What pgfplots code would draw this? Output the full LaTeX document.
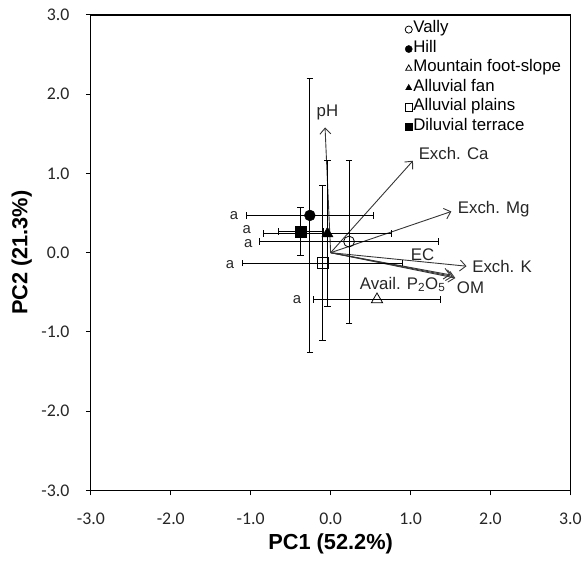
\documentclass[border=0pt]{standalone}
\usepackage{fontspec}
\setmainfont{Liberation Sans}
\newfontfamily\tickfont{Carlito}
\usepackage{pgfplots}
\pgfplotsset{compat=1.18}
\usetikzlibrary{arrows.meta}
\definecolor{vec}{HTML}{353535}
\newcommand{\lbl}{\fontsize{17}{19}\selectfont}
\newcommand{\tkf}{\tickfont\fontsize{18}{20}\selectfont}
\pgfplotsset{grp/.style={error bars/.cd, x dir=both, x explicit, y dir=both, y explicit, error mark=|,
  error bar style={black, line width=0.8bp}, error mark options={black, mark size=3.3bp, line width=0.8bp}}}
\begin{document}
\begin{tikzpicture}
\begin{axis}[
  at={(0,0)}, anchor=south west,
  scale only axis, width=483bp, height=479bp,
  xmin=-3, xmax=3, ymin=-3, ymax=3,
  xtick={-3,-2,-1,0,1,2,3}, ytick={-3,-2,-1,0,1,2,3},
  xticklabels={\tkf -3.0,\tkf -2.0,\tkf -1.0,\tkf 0.0,\tkf 1.0,\tkf 2.0,\tkf 3.0},
  yticklabels={\tkf -3.0,\tkf -2.0,\tkf -1.0,\tkf 0.0,\tkf 1.0,\tkf 2.0,\tkf 3.0},
  xtick pos=bottom, ytick pos=left,
  tick align=outside, major tick length=5bp,
  tick style={black, line width=1bp},
  axis line style={black, line width=1.3bp},
  every tick label/.append style={text=black!85},
  xticklabel style={yshift=-14bp},
  yticklabel style={xshift=-13bp},
  xlabel={PC1 (52.2\%)}, ylabel={PC2 (21.3\%)},
  label style={font=\bfseries\fontsize{22}{24}\selectfont},
  xlabel style={at={(axis description cs:0.5,-0.1127)}, anchor=center},
  ylabel style={at={(axis description cs:-0.1439,0.5)}, anchor=center, rotate=0},
  clip=false,
  legend cell align=left,
  legend style={at={(axis description cs:0.655,0.99)}, anchor=north west, draw=none, fill=none,
    font=\fontsize{17}{19}\selectfont, inner sep=0pt, row sep=0pt,
    nodes={inner xsep=1bp, inner ysep=0bp, text height=13bp, text depth=6.6bp}},
  legend image code/.code={\draw[#1, mark size=3.6bp] plot coordinates {(0bp,0bp)};},
]
% variable vectors
\addplot[forget plot, vec, line width=0.9bp, -{Straight Barb[length=6bp,width=11bp]}] coordinates {(0,0) (-0.07,1.58)};
\addplot[forget plot, vec, line width=0.9bp, -{Straight Barb[length=6bp,width=11bp]}] coordinates {(0,0) (1.03,1.16)};
\addplot[forget plot, vec, line width=0.9bp, -{Straight Barb[length=6bp,width=11bp]}] coordinates {(0,0) (1.51,0.52)};
\addplot[forget plot, vec, line width=0.9bp, -{Straight Barb[length=6bp,width=11bp]}] coordinates {(0,0) (1.70,-0.17)};
\addplot[forget plot, vec, line width=0.9bp, -{Straight Barb[length=6bp,width=11bp]}] coordinates {(0,0) (1.50,-0.28)};
\addplot[forget plot, vec, line width=0.9bp, -{Straight Barb[length=6bp,width=11bp]}] coordinates {(0,0) (1.53,-0.30)};
\addplot[forget plot, vec, line width=0.9bp, -{Straight Barb[length=6bp,width=11bp]}] coordinates {(0,0) (1.56,-0.32)};
% groups
\addplot[only marks, mark=o, mark size=5.5bp, mark options={fill=white, draw=black, line width=0.8bp}, grp]
  table[x=x, y=y, x error=ex, y error=ey] {
x y ex ey
0.23 0.14 1.12 1.03
};
\addlegendentry{Vally}
\addplot[only marks, mark=*, mark size=5.5bp, mark options={fill=black, draw=black}, grp]
  table[x=x, y=y, x error=ex, y error=ey] {
x y ex ey
-0.26 0.47 0.79 1.73
};
\addlegendentry{Hill}
\addplot[only marks, mark=triangle, mark size=6.5bp, mark options={fill=white, draw=black, line width=0.8bp},
  error bars/.cd, x dir=both, x explicit, error mark=|,
  error bar style={black, line width=0.8bp}, error mark options={black, mark size=3.3bp, line width=0.8bp}]
  table[x=x, y=y, x error=ex] {
x y ex
0.58 -0.59 0.79
};
\addlegendentry{Mountain foot-slope}
\addplot[only marks, mark=triangle*, mark size=6.5bp, mark options={fill=black, draw=black}, grp]
  table[x=x, y=y, x error=ex, y error=ey] {
x y ex ey
-0.04 0.24 0.80 0.92
};
\addlegendentry{Alluvial fan}
\addplot[only marks, mark=square, mark size=5.5bp, mark options={fill=white, draw=black, line width=0.8bp}, grp]
  table[x=x, y=y, x error=ex, y error=ey] {
x y ex ey
-0.10 -0.13 1.00 0.98
};
\addlegendentry{Alluvial plains}
\addplot[only marks, mark=square*, mark size=5.5bp, mark options={fill=black, draw=black}, grp]
  table[x=x, y=y, x error=ex, y error=ey] {
x y ex ey
-0.375 0.27 0.28 0.30
};
\addlegendentry{Diluvial terrace}
% vector labels
\node[font=\lbl, text=black!85, inner sep=0pt] at (axis cs:-0.04,1.77) {pH};
\node[font=\lbl, text=black!85, inner sep=0pt, anchor=west] at (axis cs:1.10,1.25) {Exch. Ca};
\node[font=\lbl, text=black!85, inner sep=0pt, anchor=west] at (axis cs:1.59,0.55) {Exch. Mg};
\node[font=\lbl, text=black!85, inner sep=0pt, anchor=west] at (axis cs:1.77,-0.17) {Exch. K};
\node[font=\lbl, text=black!85, inner sep=0pt] at (axis cs:1.15,-0.03) {EC};
\node[font=\lbl, text=black!85, inner sep=0pt] at (axis cs:1.75,-0.44) {OM};
\node[font=\lbl, text=black!85, inner sep=0pt] at (axis cs:0.90,-0.40) {Avail. P\textsubscript{2}O\textsubscript{5}};
\node[font=\fontsize{15}{17}\selectfont, text=black!85, inner sep=0pt] at (axis cs:-1.21,0.47) {a};
\node[font=\fontsize{15}{17}\selectfont, text=black!85, inner sep=0pt] at (axis cs:-1.05,0.29) {a};
\node[font=\fontsize{15}{17}\selectfont, text=black!85, inner sep=0pt] at (axis cs:-1.03,0.12) {a};
\node[font=\fontsize{15}{17}\selectfont, text=black!85, inner sep=0pt] at (axis cs:-1.26,-0.15) {a};
\node[font=\fontsize{15}{17}\selectfont, text=black!85, inner sep=0pt] at (axis cs:-0.42,-0.59) {a};
\end{axis}
\path[use as bounding box] (-91.5bp,-71bp) rectangle (493.5bp,494bp);
\end{tikzpicture}
\end{document}
